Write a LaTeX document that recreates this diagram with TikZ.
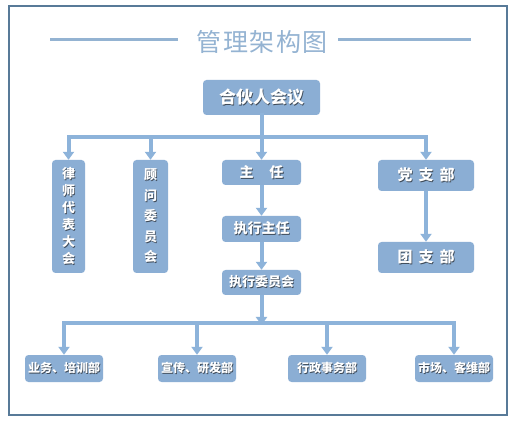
\documentclass[tikz,border=0pt]{standalone}
\usepackage{fontspec}
\setmainfont{Noto Sans CJK SC}
\usepackage{xcolor}
\usetikzlibrary{positioning,arrows.meta}

\definecolor{boxblue}{HTML}{8BAED4}
\definecolor{lineblue}{HTML}{8DB3DA}
\definecolor{framegray}{HTML}{587A98}
\definecolor{titleblue}{HTML}{94B3D2}
\definecolor{shadowgray}{HTML}{3E4A58}

% white text with a small dark drop shadow
\newcommand{\shtxt}[1]{\leavevmode\rlap{\kern0.9pt\raisebox{-0.9pt}{\textcolor{shadowgray}{#1}}}#1}
\newcommand{\fsz}[2]{\fontsize{#1pt}{#2pt}\selectfont\bfseries}

\begin{document}
\begin{tikzpicture}[
  x=1pt, y=-1pt,
  box/.style={fill=boxblue, rounded corners=3.5pt, text=white, inner sep=0pt, align=center},
  arr/.style={draw=lineblue, line width=4pt, -{Triangle[width=11pt,length=8pt]}},
  bus/.style={draw=lineblue, line width=4pt, line cap=rect},
  tline/.style={draw=titleblue, line width=3pt},
]

%% ===== PAGE AND FRAME =====
\fill[white] (0,0) rectangle (519,427);
\draw[framegray, line width=1.3pt] (9,6) rectangle (507,415);

%% ===== TITLE =====
\node[text=titleblue, font=\fontsize{25pt}{25pt}\selectfont\addfontfeature{LetterSpace=6}, inner sep=0pt] (title) at (262,42) {管理架构图};
\coordinate (tl) at (50,40);
\coordinate (tr) at (471,40);
\draw[tline] (tl) -- ([xshift=-18pt]tl -| title.west);
\draw[tline] (tr) -- ([xshift=10pt]tr -| title.east);

%% ===== TOP LEVEL =====
\node[box, minimum width=117pt, minimum height=35pt, font=\fsz{17}{17}] (partner) at (261.5,97.5)
    {\shtxt{合伙人会议}};

%% ===== SECOND ROW =====
\node[box, minimum width=33pt, minimum height=113pt, font=\fsz{13}{17}] (lawyers) at (68.5,216.5)
    {\shtxt{律}\\\shtxt{师}\\\shtxt{代}\\\shtxt{表}\\\shtxt{大}\\\shtxt{会}};
\node[box, minimum width=35pt, minimum height=113pt, font=\fsz{13}{20.5}] (advisors) at (150.5,216.5)
    {\shtxt{顾}\\\shtxt{问}\\\shtxt{委}\\\shtxt{员}\\\shtxt{会}};
\node[box, minimum width=79pt, minimum height=25pt, font=\fsz{14}{14}] (director) at (261.5,172.5)
    {\shtxt{主\hspace{16pt}任}};
\node[box, minimum width=96pt, minimum height=31pt, font=\fsz{15}{15}] (party) at (426,175.5)
    {\shtxt{党\hspace{6pt}支\hspace{6pt}部}};

%% ===== MIDDLE CHAINS =====
\node[box, minimum width=79pt, minimum height=26pt, font=\fsz{14}{14}] (execdir) at (261.5,229)
    {\shtxt{执行主任}};
\node[box, minimum width=79pt, minimum height=25pt, font=\fsz{13}{13}] (execcom) at (261.5,282.5)
    {\shtxt{执行委员会}};
\node[box, minimum width=96pt, minimum height=31pt, font=\fsz{15}{15}] (league) at (426,257.5)
    {\shtxt{团\hspace{6pt}支\hspace{6pt}部}};

%% ===== DEPARTMENTS =====
\node[box, minimum width=78pt, minimum height=27pt, font=\fsz{12}{12}] (dept1) at (64,368.5)
    {\shtxt{业务、培训部}};
\node[box, minimum width=78pt, minimum height=27pt, font=\fsz{12}{12}] (dept2) at (197,368.5)
    {\shtxt{宣传、研发部}};
\node[box, minimum width=78pt, minimum height=27pt, font=\fsz{12}{12}] (dept3) at (327,368.5)
    {\shtxt{行政事务部}};
\node[box, minimum width=78pt, minimum height=27pt, font=\fsz{12}{12}] (dept4) at (454,368.5)
    {\shtxt{市场、客维部}};

%% ===== CONNECTING ARROWS =====
\coordinate (topbus) at (261.5,137);
\draw[bus] (partner.south) -- (topbus);
\draw[bus] (lawyers.north |- topbus) -- (party.north |- topbus);
\foreach \n in {lawyers,advisors,director,party}
  \draw[arr] (\n.north |- topbus) -- (\n.north);

\draw[arr] (director) -- (execdir);
\draw[arr] (execdir) -- (execcom);
\draw[arr] (party) -- (league);

\coordinate (botbus) at (261.5,323);
\draw[arr] (execcom.south) -- ([yshift=-2pt]botbus);
\draw[bus] (dept1.north |- botbus) -- (dept4.north |- botbus);
\foreach \n in {dept1,dept2,dept3,dept4}
  \draw[arr] (\n.north |- botbus) -- (\n.north);

\end{tikzpicture}
\end{document}
